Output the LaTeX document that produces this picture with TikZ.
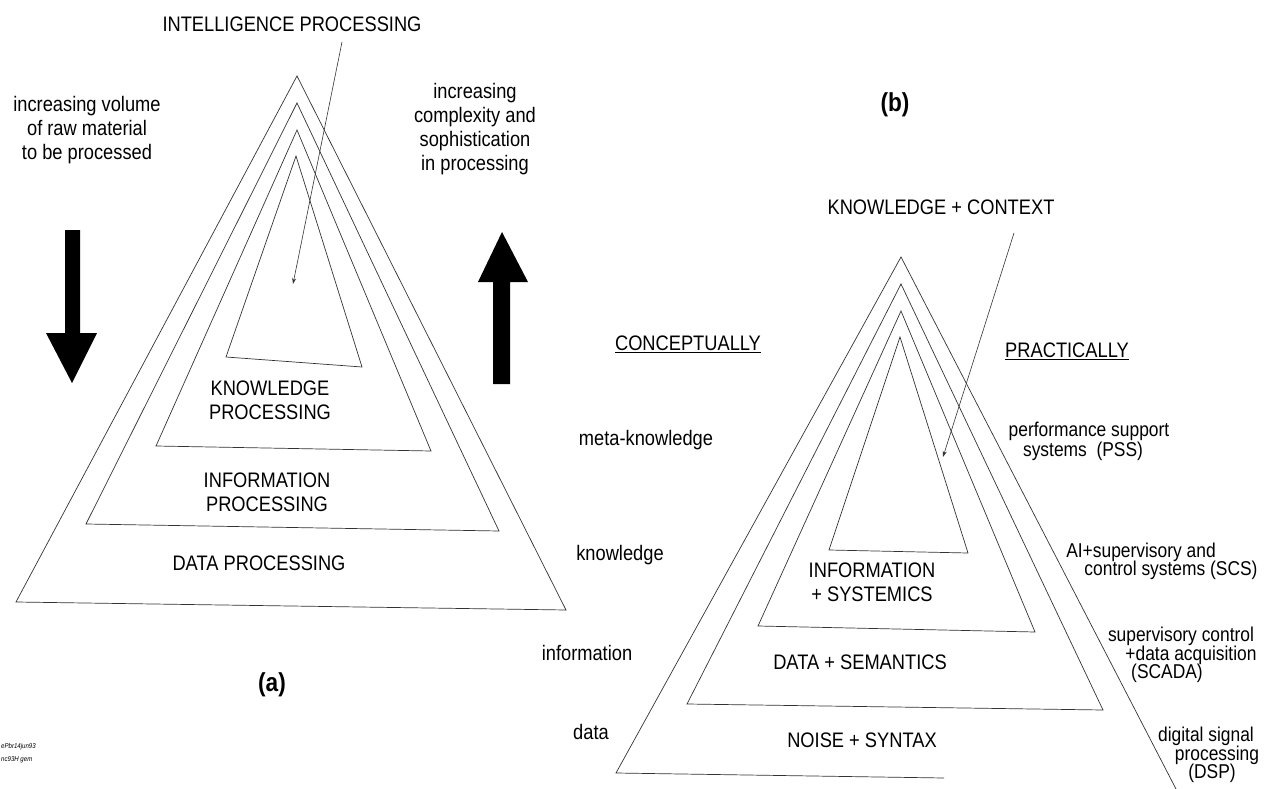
\documentclass[tikz,border=0pt]{standalone}
\usepackage{fontspec}
\setmainfont{Liberation Sans}[FakeStretch=0.87]
\usetikzlibrary{arrows.meta}
\begin{document}
\begin{tikzpicture}[x=1pt,y=-1pt,
  tri/.style={draw=black!80, line width=0.7pt, line join=miter},
  lbl/.style={inner sep=0pt, font=\fontsize{21}{24}\selectfont, align=center},
  slbl/.style={inner sep=0pt, font=\fontsize{20}{18}\selectfont},
  lead/.style={draw=black!80, line width=0.6pt, -{Stealth[length=6pt,width=4pt]}},
  blk/.style={fill=black, draw=none},
  tag/.style={inner sep=0pt, font=\bfseries\fontsize{26}{28}\selectfont},
  tiny/.style={inner sep=0pt, anchor=west, font=\itshape\fontsize{7}{8}\selectfont}]
\useasboundingbox (0,0) rectangle (1275,789);

% ---------------- (a) ----------------
\draw[tri] (297,76) -- (16,602) -- (566,610) -- cycle;
\draw[tri] (297,103) -- (86,524) -- (499,531) -- cycle;
\draw[tri] (297,130) -- (156,446) -- (431,451) -- cycle;
\draw[tri] (296,156) -- (226,357) -- (362,367) -- cycle;

\node[lbl] (intel) at (292,24) {INTELLIGENCE PROCESSING};
\coordinate (intelA) at (342,42);
\coordinate (intelB) at (293,284);
\draw[lead] (intelA) -- (intelB);

\node[lbl] (vol) at (87,130) {increasing volume\\of raw material\\to be processed};
\node[lbl] (cplx) at (475,129) {increasing\\complexity and\\sophistication\\in processing};

% block arrows
\fill[blk] (65,230) -- (80,230) -- (80,333) -- (97,333) -- (72,383) -- (46,333) -- (65,333) -- cycle;
\fill[blk] (502,232) -- (528,282) -- (510,282) -- (510,384) -- (493,384) -- (493,282) -- (478,282) -- cycle;

\node[lbl] (kp) at (270,400) {KNOWLEDGE\\PROCESSING};
\node[lbl] (ip) at (267,492) {INFORMATION\\PROCESSING};
\node[lbl] (dp) at (259,563) {DATA PROCESSING};
\node[tag] (a) at (272,685) {(a)};

\node[lbl] (metak) at (646,440) {meta-knowledge};
\node[lbl] (know) at (620,555) {knowledge};
\node[lbl] (info) at (587,653) {information};
\node[lbl] (data) at (591,732) {data};

\node[tiny] (f1) at (1,747) {ePbr14jun93};
\node[tiny] (f2) at (1,760) {nc93H gem};

% ---------------- (b) ----------------
\node[tag] (b) at (895,105) {(b)};
\node[lbl] (kc) at (941,207) {KNOWLEDGE + CONTEXT};
\coordinate (kcA) at (1014,233);
\coordinate (kcB) at (943,457);

\draw[tri] (944,778) -- (616,773) -- (901,257) -- (1176,789);
\draw[tri] (901,284) -- (687,704) -- (1103,710) -- cycle;
\draw[tri] (901,311) -- (758,626) -- (1035,632) -- cycle;
\draw[tri] (900,337) -- (829,550) -- (968,553) -- cycle;
\draw[lead] (kcA) -- (kcB);

\node[lbl] (concept) at (688,344) {\underline{CONCEPTUALLY}};
\node[lbl] (pract) at (1067,351) {\underline{PRACTICALLY}};

\node[lbl] (inf) at (872,582) {INFORMATION\\+ SYSTEMICS};
\node[lbl] (dsem) at (860,662) {DATA + SEMANTICS};
\node[lbl] (nsyn) at (862,740) {NOISE + SYNTAX};

\node[slbl] (pss1) at (1089,431) {performance support};
\node[slbl] (pss2) at (1083,451) {systems\ \ (PSS)};
\node[slbl] (scs1) at (1141,552) {AI+supervisory and};
\node[slbl] (scs2) at (1171,570) {control systems (SCS)};
\node[slbl] (sca1) at (1181,636) {supervisory control};
\node[slbl] (sca2) at (1191,655) {+data acquisition};
\node[slbl] (sca3) at (1167,673) {(SCADA)};
\node[slbl] (dsp1) at (1206,736) {digital signal};
\node[slbl] (dsp2) at (1217,755) {processing};
\node[slbl] (dsp3) at (1212,773) {(DSP)};
\end{tikzpicture}
\end{document}
